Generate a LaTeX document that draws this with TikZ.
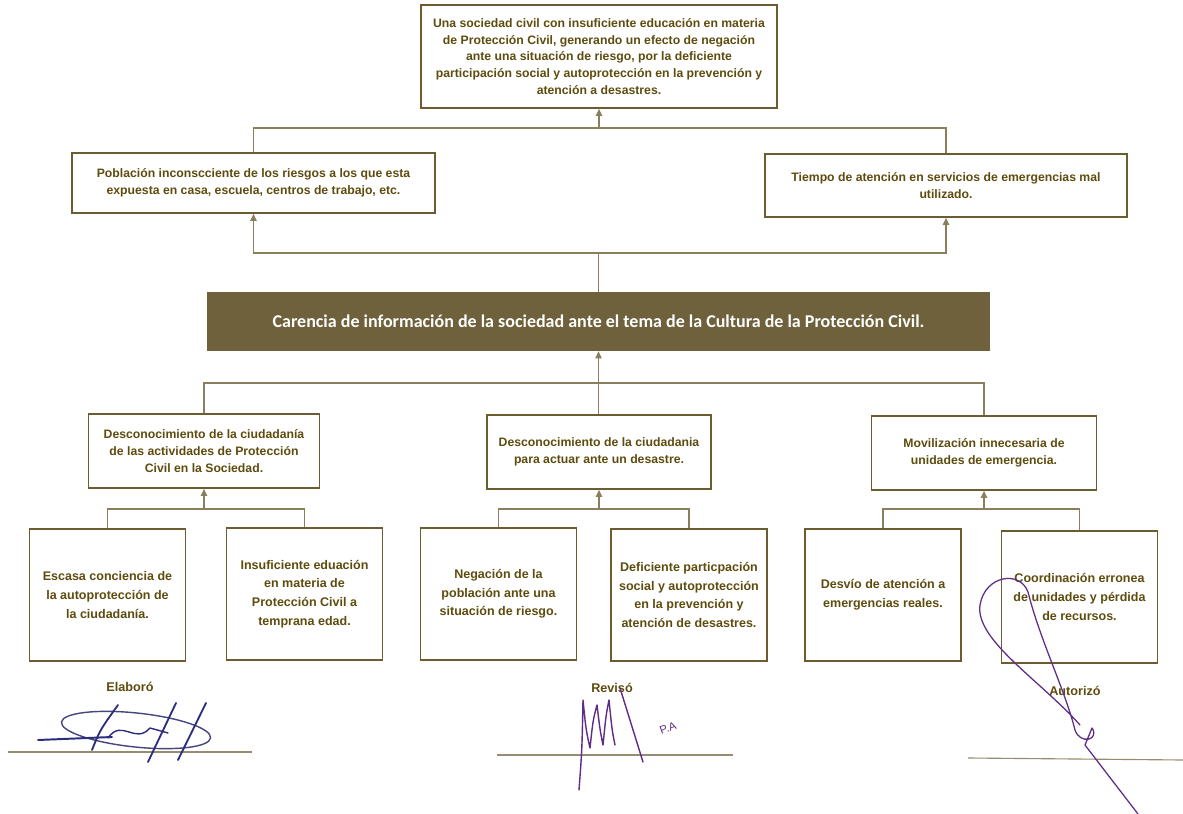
\documentclass[tikz,border=0pt]{standalone}
\usepackage{fontspec}
\setmainfont{Liberation Sans}
\newfontfamily\barfont{Carlito}
\usetikzlibrary{arrows.meta,positioning,calc}
\definecolor{olivetext}{RGB}{94,76,14}
\definecolor{oliveline}{RGB}{108,92,48}
\definecolor{olivelink}{RGB}{138,126,92}
\definecolor{olivebar}{RGB}{111,97,60}
\definecolor{inkblue}{RGB}{45,45,125}
\definecolor{inkpurple}{RGB}{95,45,135}
\definecolor{signline}{RGB}{150,140,112}

\begin{document}
\begin{tikzpicture}[x=0.025cm,y=-0.025cm,
    box/.style={draw=oliveline,line width=1.2pt,fill=white,align=center,text=olivetext,
      font=\bfseries\fontsize{8.7}{11.9}\selectfont,inner sep=2pt},
    cause/.style={box,font=\bfseries\fontsize{8.9}{13.3}\selectfont,minimum width=3.9cm,minimum height=3.3cm},
    bar/.style={fill=olivebar,text=white,font=\barfont\bfseries\fontsize{12.8}{14}\selectfont,
      minimum width=19.575cm,minimum height=1.475cm},
    link/.style={draw=olivelink,line width=0.9pt},
    arr/.style={link,-{Triangle[length=5pt,width=4.5pt]}},
    signlbl/.style={text=olivetext,font=\bfseries\fontsize{9}{11}\selectfont},
    ink/.style={line width=1pt,line cap=round,line join=round}]
    \useasboundingbox (0,0) rectangle (1183,814);
    \fill[white] (0,0) rectangle (1183,814);

    % efecto principal
    \node[box,minimum width=8.9cm,minimum height=2.575cm] (efecto) at (599,56.5) {Una sociedad civil con insuficiente educación en materia\\ de Protección Civil, generando un efecto de negación\\ ante una situación de riesgo, por la deficiente\\ participación social y autoprotección en la prevención y\\ atención a desastres.};

    % efectos
    \node[box,minimum width=9.075cm,minimum height=1.5cm] (poblacion) at (253.5,183) {Población inconscciente de los riesgos a los que esta\\ expuesta en casa, escuela, centros de trabajo, etc.};
    \node[box,minimum width=9.05cm,minimum height=1.575cm] (tiempo) at (946,185.5) {Tiempo de atención en servicios de emergencias mal\\ utilizado.};

    % problema central
    \node[bar] (carencia) at (598.5,321.5) {Carencia de información de la sociedad ante el tema de la Cultura de la Protección Civil.};

    % causas
    \node[box,minimum width=5.775cm,minimum height=1.85cm] (descact) at (204,451) {Desconocimiento de la ciudadanía\\ de las actividades de Protección\\ Civil en la Sociedad.};
    \node[box,minimum width=5.6cm,minimum height=1.85cm] (descdes) at (599,452) {Desconocimiento de la ciudadania\\ para actuar ante un desastre.};
    \node[box,minimum width=5.625cm,minimum height=1.85cm] (moviliza) at (984,453) {Movilización innecesaria de\\ unidades de emergencia.};

    % subcausas
    \node[cause] (escasa) at (107.5,595) {Escasa conciencia de\\ la autoprotección de\\ la ciudadanía.};
    \node[cause] (insuf) at (304.5,594) {Insuficiente eduación\\ en materia de\\ Protección Civil a\\ temprana edad.};
    \node[cause] (negacion) at (498.5,594) {Negación de la\\ población ante una\\ situación de riesgo.};
    \node[cause] (deficiente) at (689,595) {Deficiente particpación\\ social y autoprotección\\ en la prevención y\\ atención de desastres.};
    \node[cause] (desvio) at (883,595) {Desvío de atención a\\ emergencias reales.};
    \node[cause] (coord) at (1079.5,597) {Coordinación erronea\\ de unidades y pérdida\\ de recursos.};

    % conectores
    \coordinate (efjoin) at (599,128);
    \draw[link] (poblacion.north) |- (efjoin) -| (tiempo.north);
    \draw[arr] (efjoin) -- (efecto.south);

    \coordinate (carjoin) at (598.5,253);
    \draw[link] (carencia.north) -- (carjoin);
    \draw[arr] (carjoin) -| (poblacion.south);
    \draw[arr] (carjoin) -| (tiempo.south);

    \coordinate (descjoin) at (598.5,383);
    \draw[link] (descact.north) |- (descjoin) -| (moviliza.north);
    \draw[arr] (descdes.north -| carencia.south) -- (carencia.south);

    \coordinate (actjoin) at (204,509);
    \draw[link] (escasa.north) |- (actjoin) -| (insuf.north);
    \draw[arr] (actjoin) -- (descact.south);
    \coordinate (desjoin) at (599,509);
    \draw[link] (negacion.north) |- (desjoin) -| (deficiente.north);
    \draw[arr] (desjoin) -- (descdes.south);
    \coordinate (movjoin) at (984,509);
    \draw[link] (desvio.north) |- (movjoin) -| (coord.north);
    \draw[arr] (movjoin) -- (moviliza.south);

    % firmas
    \node[signlbl] (elaboro) at (130,687) {Elaboró};
    \node[signlbl] (reviso) at (612,688) {Revisó};
    \node[signlbl] (autorizo) at (1075,691) {Autorizó};
    \draw[signline,line width=0.8pt] (8,752) -- (252,752);
    \draw[signline,line width=0.8pt] (497,755) -- (733,755);
    \draw[signline,line width=0.8pt] (968,758) -- (1183,760);

    \draw[ink,inkblue!70!gray,rotate around={-6:(136,730)}] (136,730) ellipse (75 and 17);
    \draw[ink,inkblue,line width=1.4pt] (38,740) -- (112,737);
    \draw[ink,inkblue,line width=1.3pt] (92,750) .. controls (100,730) .. (118,705);
    \draw[ink,inkblue,line width=1.3pt] (148,762) -- (176,703);
    \draw[ink,inkblue,line width=1.3pt] (178,760) -- (206,703);
    \draw[ink,inkblue] (108,738) .. controls (122,718) and (135,745) .. (150,728) -- (168,733);

    \draw[ink,inkpurple] (579,790) .. controls (582,750) .. (583,700) .. controls (586,730) .. (590,748)
      .. controls (593,720) .. (597,705) .. controls (600,730) .. (603,745)
      .. controls (606,715) .. (609,700) .. controls (612,730) .. (615,745);
    \draw[ink,inkpurple] (620,688) -- (643,762);
    \node[inkpurple,rotate=20,inner sep=0pt,font=\fontsize{8}{8}\selectfont] (pa) at (668,728) {P.A};

    \draw[ink,inkpurple,line width=0.9pt] (1080,725) .. controls (1040,680) and (975,640) .. (980,605)
      .. controls (985,575) and (1020,570) .. (1028,592) .. controls (1040,640) and (1065,690) .. (1075,730)
      .. controls (1080,745) and (1100,740) .. (1092,728) -- (1085,745) -- (1138,814);
\end{tikzpicture}
\end{document}
